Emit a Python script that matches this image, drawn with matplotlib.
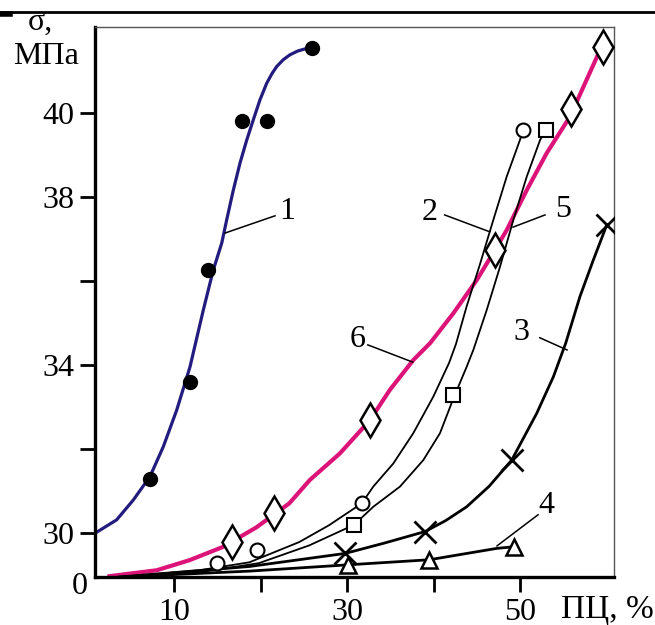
import matplotlib
matplotlib.use("Agg")
import matplotlib.pyplot as plt
from matplotlib.lines import Line2D

plt.rcParams['font.family'] = ['Liberation Serif', 'DejaVu Serif']

# curve 1 (filled dots, navy)
c1_x = [0.82, 3.33, 5.25, 7.19, 8.73, 10.28, 11.82, 13.36, 14.51, 15.49, 16.06, 16.83, 17.6,
        18.38, 19.14, 19.92, 20.69, 21.3, 21.85, 22.6, 23.39, 24.3, 25.32]
c1_y = [30.0, 30.32, 30.79, 31.35, 32.06, 32.93, 33.96, 35.31, 36.26, 36.9, 37.45, 38.16, 38.8,
        39.35, 39.83, 40.31, 40.7, 40.93, 41.1, 41.26, 41.38, 41.47, 41.53]
m1_x = [7.19, 11.82, 13.94, 17.8, 20.69, 25.97]
m1_y = [31.29, 33.6, 36.26, 39.81, 39.81, 41.53]

# curve 2 (open circles)
c2_x = [3.7, 12.9, 18.7, 24.45, 27.9, 31.69, 33.03, 35.35, 37.66, 39.98, 41.8, 42.6, 43.84,
        45.38, 46.92, 48.47, 50.0, 50.36]
c2_y = [28.96, 29.12, 29.31, 29.79, 30.19, 30.71, 31.11, 31.66, 32.38, 33.25, 34.05, 34.5, 35.4,
        36.4, 37.45, 38.48, 39.35, 39.59]
m2_x = [14.94, 19.57, 31.69, 50.39]
m2_y = [29.29, 29.6, 30.71, 39.59]

# curve 3 (crosses)
c3_x = [3.7, 18.7, 29.76, 34.19, 39.02, 41.4, 43.84, 46.45, 49.05, 51.94, 53.87, 55.3, 56.95,
        58.5, 60.05]
c3_y = [28.96, 29.21, 29.52, 29.76, 30.04, 30.3, 30.63, 31.12, 31.74, 32.85, 33.72, 34.52, 35.63,
        36.5, 37.33]
m3_x = [29.76, 39.02, 49.05, 60.05]
m3_y = [29.52, 30.04, 31.74, 37.33]

# curve 4 (open triangles)
c4_x = [3.7, 18.7, 30.14, 39.51, 47.31, 49.32]
c4_y = [28.96, 29.1, 29.25, 29.37, 29.64, 29.68]
m4_x = [30.14, 39.51, 49.32]
m4_y = [29.25, 29.37, 29.68]

# curve 5 (open squares)
c5_x = [4.8, 12.9, 19.8, 25.6, 30.8, 33.03, 36.12, 38.82, 40.75, 42.29, 43.84, 44.61, 46.16,
        47.7, 49.24, 50.79, 52.33, 53.0]
c5_y = [28.96, 29.07, 29.29, 29.71, 30.2, 30.63, 31.11, 31.74, 32.38, 33.2, 33.96, 34.36, 35.31,
        36.34, 37.45, 38.48, 39.35, 39.59]
m5_x = [30.8, 42.29, 53.0]
m5_y = [30.2, 33.29, 39.59]

# curve 6 (diamonds, magenta)
c6_x = [2.5, 7.96, 11.76, 15.57, 19.5, 23.3, 25.7, 29.17, 32.65, 34.95, 37.66, 39.6, 42.29,
        45.0, 47.12, 48.47, 50.79, 53.1, 55.8, 59.27]
c6_y = [28.98, 29.12, 29.36, 29.67, 30.14, 30.71, 31.27, 31.9, 32.69, 33.41, 34.12, 34.52, 35.23,
        36.02, 36.74, 37.21, 38.16, 39.04, 39.91, 41.49]
m6_x = [16.68, 21.54, 32.64, 47.12, 55.9, 59.65]
m6_y = [29.79, 30.48, 32.7, 36.74, 40.08, 41.57]

y_ticks = [30, 32, 34, 36, 38, 40]
y_labels = ['30', '', '34', '', '38', '40']
x_ticks = [10, 20, 30, 40, 50]
x_labels = ['10', '', '30', '', '50']

fig = plt.figure(figsize=(6.55, 6.25), dpi=100)
ax = fig.add_axes([0.145, 0.0768, 0.7924, 0.88])

navy = '#231c7e'
pink = '#dc1479'

ax.plot(c1_x, c1_y, color=navy, lw=2.3, zorder=2, solid_joinstyle='round')
ax.plot(c6_x, c6_y, color=pink, lw=3.0, zorder=2, solid_joinstyle='round')
ax.plot(c2_x, c2_y, color='black', lw=1.3, zorder=2, solid_joinstyle='round')
ax.plot(c5_x, c5_y, color='black', lw=1.3, zorder=2, solid_joinstyle='round')
ax.plot(c3_x, c3_y, color='black', lw=2.0, zorder=2, solid_joinstyle='round')
ax.plot(c4_x, c4_y, color='black', lw=2.0, zorder=2, solid_joinstyle='round')

ax.plot(m1_x, m1_y, 'o', ms=10, color='black', zorder=4)
ax.plot(m2_x, m2_y, 'o', ms=10, mfc='white', mec='black', mew=1.5, ls='none', zorder=4)
ax.plot(m5_x, m5_y, 's', ms=10, mfc='white', mec='black', mew=1.5, ls='none', zorder=4)
ax.plot(m3_x, m3_y, 'x', ms=16, mec='black', mew=2.0, ls='none', zorder=4)
ax.plot(m4_x, m4_y, '^', ms=11, mfc='white', mec='black', mew=1.8, ls='none', zorder=4)
ax.plot(m6_x, m6_y, 'd', ms=17, mfc='white', mec='black', mew=1.8, ls='none', zorder=4)

# curve labels with leader lines
labels = [('1', 23.04, 37.66, 15.87, 37.14, 21.66, 37.55),
          ('2', 39.6, 37.64, 46.5, 37.17, 41.3, 37.57),
          ('5', 55.0, 37.69, 49.2, 37.28, 52.9, 37.57),
          ('6', 31.25, 34.6, 37.6, 34.07, 32.4, 34.48),
          ('3', 50.2, 34.77, 55.45, 34.36, 52.3, 34.65),
          ('4', 53.1, 30.67, 47.35, 29.7, 52.1, 30.44)]
for t, tx, ty, x0, y0, x1, y1 in labels:
    ax.plot([x0, x1], [y0, y1], color='black', lw=1.1, zorder=3)
    ax.text(tx, ty, t, fontsize=23, ha='center', va='center')

ax.set_xlim(0.82, 60.89)
ax.set_ylim(28.96, 42.04)
ax.set_xticks(x_ticks)
ax.set_xticklabels(x_labels)
ax.set_yticks(y_ticks)
ax.set_yticklabels(y_labels)
ax.tick_params(direction='out', length=11, width=2, labelsize=23, pad=4)

for s in ['left', 'bottom']:
    ax.spines[s].set_linewidth(2.4)
    ax.spines[s].set_color('black')
for s in ['top', 'right']:
    ax.spines[s].set_linewidth(1.0)
    ax.spines[s].set_color('#555555')

fig.text(80 / 655, 1 - 587 / 625, '0', fontsize=23, ha='center', va='center')
fig.text(40 / 655, 1 - 22 / 625, 'σ,', fontsize=23, ha='center', va='center')
fig.text(46 / 655, 1 - 57 / 625, 'МПа', fontsize=23, ha='center', va='center')
fig.text(0.998, 1 - 610 / 625, 'ПЦ, %', fontsize=24, ha='right', va='center')

# top border line of the page
fig.add_artist(Line2D([0, 1], [1 - 12 / 625, 1 - 12 / 625], color='black', lw=2, transform=fig.transFigure))
fig.add_artist(Line2D([0, 10 / 655], [1 - 14 / 625, 1 - 14 / 625], color='black', lw=4, transform=fig.transFigure))

fig.savefig('out.png', dpi=100)
